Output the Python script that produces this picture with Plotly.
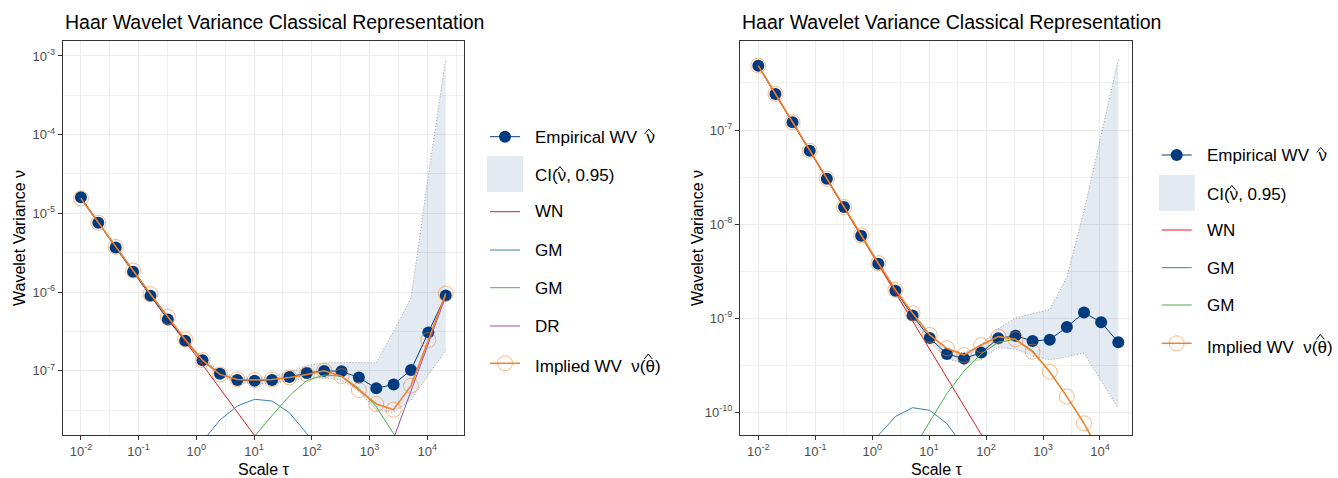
import plotly.graph_objects as go

W, H = 1338, 478

# ---------------- data ----------------
tau = [0.01, 0.02, 0.04, 0.08, 0.16, 0.32, 0.64, 1.28, 2.56, 5.12, 10.24, 20.48,
       40.96, 81.92, 163.84, 327.68, 655.36, 1310.72, 2621.44, 5242.88, 10485.76, 20971.52]

# left panel
left_emp = [1.60e-5, 7.57e-6, 3.68e-6, 1.81e-6, 8.95e-7, 4.49e-7, 2.40e-7, 1.36e-7, 9.16e-8,
            7.60e-8, 7.43e-8, 7.64e-8, 8.32e-8, 9.33e-8, 9.95e-8, 9.86e-8, 8.18e-8, 5.97e-8,
            6.70e-8, 1.02e-7, 3.07e-7, 9.06e-7]
left_implied = [1.55e-5, 7.59e-6, 3.75e-6, 1.88e-6, 9.42e-7, 4.83e-7, 2.50e-7, 1.36e-7, 8.97e-8,
                7.76e-8, 7.60e-8, 7.76e-8, 8.22e-8, 8.97e-8, 1.00e-7, 8.51e-8, 5.68e-8, 3.78e-8,
                3.20e-8, 6.46e-8, 2.45e-7, 9.55e-7]
left_ci_lo = [1.56e-5, 7.40e-6, 3.60e-6, 1.76e-6, 8.71e-7, 4.35e-7, 2.31e-7, 1.30e-7, 8.61e-8,
              7.08e-8, 6.84e-8, 6.92e-8, 7.41e-8, 7.94e-8, 8.13e-8, 7.59e-8, 5.50e-8, 3.16e-8,
              2.95e-8, 4.27e-8, 8.81e-8, 1.83e-7]
left_ci_hi = [1.63e-5, 7.74e-6, 3.77e-6, 1.86e-6, 9.20e-7, 4.63e-7, 2.51e-7, 1.44e-7, 9.75e-8,
              8.17e-8, 8.07e-8, 8.41e-8, 9.66e-8, 1.16e-7, 1.26e-7, 1.27e-7, 1.27e-7, 1.26e-7,
              3.16e-7, 8.32e-7, 3.02e-5, 9.27e-4]
left_wn = [1.52e-5, 7.62e-6, 3.81e-6, 1.91e-6, 9.53e-7, 4.76e-7, 2.38e-7, 1.19e-7, 5.96e-8,
           2.98e-8, 1.49e-8, 7.45e-9]                      # scales 0..11
left_gm1 = [6.3e-9, 1.26e-8, 2.36e-8, 3.56e-8, 4.33e-8, 4.12e-8, 2.92e-8, 1.59e-8, 8.1e-9]  # scales 6..14
left_gm2 = [7.6e-9, 1.48e-8, 2.69e-8, 4.79e-8, 7.5e-8, 8.81e-8, 8.51e-8, 5.97e-8, 3.49e-8,
            1.58e-8, 7.9e-9, 3.8e-9, 1.9e-9]               # scales 9..21
left_dr = [1.38e-8, 5.52e-8, 2.21e-7, 8.85e-7]             # scales 18..21

# right panel
right_emp = [4.83e-7, 2.42e-7, 1.21e-7, 6.03e-8, 3.04e-8, 1.52e-8, 7.53e-9, 3.80e-9, 1.96e-9,
             1.07e-9, 6.17e-10, 4.17e-10, 3.72e-10, 4.31e-10, 6.11e-10, 6.52e-10, 5.73e-10,
             5.92e-10, 8.05e-10, 1.15e-9, 9.04e-10, 5.55e-10]
right_implied = [4.83e-7, 2.42e-7, 1.21e-7, 6.03e-8, 3.04e-8, 1.52e-8, 7.59e-9, 3.85e-9, 2.00e-9,
                 1.13e-9, 6.64e-10, 4.79e-10, 4.06e-10, 5.19e-10, 6.37e-10, 5.97e-10, 4.41e-10,
                 2.70e-10, 1.47e-10, 7.64e-11, 3.55e-11, 1.74e-11]
right_ci_lo = [4.72e-7, 2.36e-7, 1.18e-7, 5.86e-8, 2.95e-8, 1.47e-8, 7.24e-9, 3.63e-9, 1.84e-9,
               9.89e-10, 5.56e-10, 3.72e-10, 3.31e-10, 3.63e-10, 4.90e-10, 4.68e-10, 3.98e-10,
               3.63e-10, 3.89e-10, 4.27e-10, 2.19e-10, 1.10e-10]
right_ci_hi = [4.94e-7, 2.47e-7, 1.23e-7, 6.19e-8, 3.13e-8, 1.57e-8, 7.83e-9, 3.98e-9, 2.09e-9,
               1.16e-9, 6.84e-10, 4.68e-10, 4.27e-10, 5.25e-10, 7.76e-10, 1.00e-9, 1.12e-9,
               1.23e-9, 2.75e-9, 1.38e-8, 8.51e-8, 5.62e-7]
right_wn = [4.79e-7, 2.39e-7, 1.20e-7, 5.98e-8, 2.99e-8, 1.50e-8, 7.48e-9, 3.74e-9, 1.87e-9,
            9.35e-10, 4.68e-10, 2.34e-10, 1.17e-10, 5.85e-11, 2.92e-11]   # scales 0..14
right_gm1 = [2.82e-11, 5.69e-11, 9.02e-11, 1.12e-10, 1.05e-10, 7.59e-11, 4.27e-11, 2.0e-11]  # scales 6..13
right_gm2 = [3.98e-11, 7.94e-11, 1.58e-10, 2.75e-10, 4.17e-10, 5.56e-10, 5.96e-10, 4.52e-10,
             2.70e-10, 1.47e-10, 7.59e-11, 3.55e-11, 1.74e-11]             # scales 9..21

x_tickvals = [1e-2, 1e-1, 1e0, 1e1, 1e2, 1e3, 1e4]
x_ticktext = ["10<sup>-2</sup>", "10<sup>-1</sup>", "10<sup>0</sup>", "10<sup>1</sup>",
              "10<sup>2</sup>", "10<sup>3</sup>", "10<sup>4</sup>"]
x_minor = [10 ** -1.5, 10 ** -0.5, 10 ** 0.5, 10 ** 1.5, 10 ** 2.5, 10 ** 3.5, 10 ** 4.5]
left_y_tickvals = [1e-7, 1e-6, 1e-5, 1e-4, 1e-3]
left_y_ticktext = ["10<sup>-7</sup>", "10<sup>-6</sup>", "10<sup>-5</sup>", "10<sup>-4</sup>", "10<sup>-3</sup>"]
left_y_minor = [10 ** -7.5, 10 ** -6.5, 10 ** -5.5, 10 ** -4.5, 10 ** -3.5]
right_y_tickvals = [1e-10, 1e-9, 1e-8, 1e-7]
right_y_ticktext = ["10<sup>-10</sup>", "10<sup>-9</sup>", "10<sup>-8</sup>", "10<sup>-7</sup>"]
right_y_minor = [10 ** -9.5, 10 ** -8.5, 10 ** -7.5, 10 ** -6.5]

# ---------------- style ----------------
NAVY = "#003C7D"
ORANGE = "#F47F24"
RED = "#E41A1C"
BLUE = "#377EB8"
GREEN = "#4DAF4A"
PURPLE = "#984EA3"
CI_FILL = "rgba(0,60,125,0.11)"
CI_LINE = "#9A9A9A"
FONT = "Liberation Sans, Arial, sans-serif"

fig = go.Figure()


def add_panel(xa, ya, emp, lo, hi, comps, implied):
    fig.add_trace(go.Scatter(x=tau, y=lo, xaxis=xa, yaxis=ya, mode="lines",
                             line=dict(color=CI_LINE, width=1, dash="1px,2px"),
                             showlegend=False, hoverinfo="skip"))
    fig.add_trace(go.Scatter(x=tau, y=hi, xaxis=xa, yaxis=ya, mode="lines",
                             line=dict(color=CI_LINE, width=1, dash="1px,2px"),
                             fill="tonexty", fillcolor=CI_FILL,
                             showlegend=False, hoverinfo="skip"))
    fig.add_trace(go.Scatter(x=tau, y=emp, xaxis=xa, yaxis=ya, mode="lines+markers",
                             line=dict(color=NAVY, width=1),
                             marker=dict(size=12, color=NAVY), showlegend=False))
    for start, vals, color in comps:
        fig.add_trace(go.Scatter(x=tau[start:start + len(vals)], y=vals, xaxis=xa, yaxis=ya,
                                 mode="lines", line=dict(color=color, width=1),
                                 showlegend=False))
    fig.add_trace(go.Scatter(x=tau, y=implied, xaxis=xa, yaxis=ya, mode="lines+markers",
                             line=dict(color=ORANGE, width=1.5),
                             marker=dict(symbol="circle-open", size=15,
                                         color="rgba(244,127,36,0.55)", line=dict(width=1)),
                             showlegend=False))


add_panel("x", "y", left_emp, left_ci_lo, left_ci_hi,
          [(0, left_wn, RED), (6, left_gm1, BLUE), (9, left_gm2, GREEN), (18, left_dr, PURPLE)],
          left_implied)
add_panel("x2", "y2", right_emp, right_ci_lo, right_ci_hi,
          [(0, right_wn, RED), (6, right_gm1, BLUE), (9, right_gm2, GREEN)],
          right_implied)


def axis_common():
    return dict(type="log", showline=True, mirror=True, linecolor="#333333", linewidth=1,
                ticks="outside", ticklen=4, tickcolor="#333333", tickwidth=1,
                tickfont=dict(size=13, color="#4D4D4D", family=FONT),
                showgrid=True, gridcolor="#EBEBEB", gridwidth=1, zeroline=False,
                tickmode="array")


def px_x(x):
    return x / W


def px_y(y):
    return 1 - y / H


ydom = [px_y(435), px_y(41)]
minor_style = dict(showgrid=True, gridcolor="#F0F0F0", gridwidth=1, ticks="")

fig.update_layout(
    width=W, height=H, margin=dict(l=0, r=0, t=0, b=0),
    paper_bgcolor="white", plot_bgcolor="white",
    font=dict(family=FONT, color="black"),
    showlegend=False,
    xaxis=dict(**axis_common(), domain=[px_x(62.7), px_x(464)], range=[-2.316, 4.638],
               tickvals=x_tickvals, ticktext=x_ticktext, anchor="y",
               minor=dict(tickvals=x_minor, **minor_style)),
    yaxis=dict(**axis_common(), domain=ydom, range=[-7.817, -2.81],
               tickvals=left_y_tickvals, ticktext=left_y_ticktext, anchor="x",
               minor=dict(tickvals=left_y_minor, **minor_style)),
    xaxis2=dict(**axis_common(), domain=[px_x(740), px_x(1131.7)], range=[-2.321, 4.557],
                tickvals=x_tickvals, ticktext=x_ticktext, anchor="y2",
                minor=dict(tickvals=x_minor, **minor_style)),
    yaxis2=dict(**axis_common(), domain=ydom, range=[-10.241, -6.054],
                tickvals=right_y_tickvals, ticktext=right_y_ticktext, anchor="x2",
                minor=dict(tickvals=right_y_minor, **minor_style)),
)

annotations = []
shapes = []


def text(x, y, s, size, anchor="left", angle=0, color="black"):
    annotations.append(dict(x=px_x(x), y=px_y(y), xref="paper", yref="paper", text=s,
                            showarrow=False, xanchor=anchor, yanchor="middle", textangle=angle,
                            font=dict(size=size, color=color, family=FONT)))


def hat(cx, ytop):
    # circumflex accent drawn above a Greek letter of a legend label
    path = "M {:.5f} {:.5f} L {:.5f} {:.5f} L {:.5f} {:.5f}".format(
        px_x(cx - 4), px_y(ytop + 5), px_x(cx), px_y(ytop), px_x(cx + 4), px_y(ytop + 5))
    shapes.append(dict(type="path", xref="paper", yref="paper", path=path,
                       line=dict(color="black", width=1)))


# titles and axis titles
text(63, 22, "Haar Wavelet Variance Classical Representation", 19.5)
text(740, 22, "Haar Wavelet Variance Classical Representation", 19.5)
text(19, 238, "Wavelet Variance ν", 16, anchor="center", angle=-90)
text(697, 238, "Wavelet Variance ν", 16, anchor="center", angle=-90)
text(263, 469, "Scale τ", 16, anchor="center")
text(936, 469, "Scale τ", 16, anchor="center")

NB = "\u00a0"
EMP_LABEL = "Empirical WV" + NB + NB + "ν"
CI_LABEL = "CI(ν, 0.95)"
IMP_LABEL = "Implied WV" + NB + NB + "ν(θ)"
# horizontal offsets (px from label start) of the hatted letters, Liberation Sans 17px
EMP_HAT_DX = 115.7
CI_HAT_DX = 26.9
IMP_HAT_DX = 115.3


def legend(x_line0, x_text, entries):
    xc = x_line0 + 15
    for kind, y, label, color, ty in entries:
        if kind == "emp":
            shapes.append(dict(type="line", xref="paper", yref="paper", x0=px_x(x_line0), x1=px_x(x_line0 + 30),
                               y0=px_y(y), y1=px_y(y), line=dict(color=NAVY, width=1)))
            shapes.append(dict(type="circle", xref="paper", yref="paper", x0=px_x(xc - 6), x1=px_x(xc + 6),
                               y0=px_y(y + 6), y1=px_y(y - 6), fillcolor=NAVY, line=dict(width=0)))
            hat(x_text + EMP_HAT_DX, ty - 8)
        elif kind == "ci":
            shapes.append(dict(type="rect", xref="paper", yref="paper", x0=px_x(x_line0 - 3), x1=px_x(x_line0 + 33),
                               y0=px_y(y + 18), y1=px_y(y - 18), fillcolor=CI_FILL, line=dict(width=0)))
            hat(x_text + CI_HAT_DX, ty - 8.5)
        elif kind == "line":
            shapes.append(dict(type="line", xref="paper", yref="paper", x0=px_x(x_line0), x1=px_x(x_line0 + 30),
                               y0=px_y(y), y1=px_y(y), line=dict(color=color, width=1)))
        elif kind == "imp":
            shapes.append(dict(type="line", xref="paper", yref="paper", x0=px_x(x_line0), x1=px_x(x_line0 + 30),
                               y0=px_y(y), y1=px_y(y), line=dict(color=ORANGE, width=1.5)))
            shapes.append(dict(type="circle", xref="paper", yref="paper", x0=px_x(xc - 7.5), x1=px_x(xc + 7.5),
                               y0=px_y(y + 7.5), y1=px_y(y - 7.5), fillcolor="rgba(0,0,0,0)",
                               line=dict(color="rgba(244,127,36,0.55)", width=1)))
            hat(x_text + IMP_HAT_DX, ty - 12.5)
        text(x_text, ty, label, 17)


legend(490, 533, [("emp", 136.7, EMP_LABEL, NAVY, 137), ("ci", 174, CI_LABEL, None, 175),
                  ("line", 211.7, "WN", RED, 212), ("line", 250, "GM", BLUE, 250),
                  ("line", 287.7, "GM", GREEN, 288), ("line", 326, "DR", PURPLE, 326),
                  ("imp", 363.3, IMP_LABEL, ORANGE, 366.5)])
legend(1161.7, 1205, [("emp", 155, EMP_LABEL, NAVY, 155.5), ("ci", 193, CI_LABEL, None, 194),
                      ("line", 230, "WN", RED, 230.5), ("line", 267.7, "GM", BLUE, 268),
                      ("line", 305, "GM", GREEN, 305.5), ("imp", 343.3, IMP_LABEL, ORANGE, 347)])

fig.update_layout(annotations=annotations, shapes=shapes)
fig.write_html("out.html")
